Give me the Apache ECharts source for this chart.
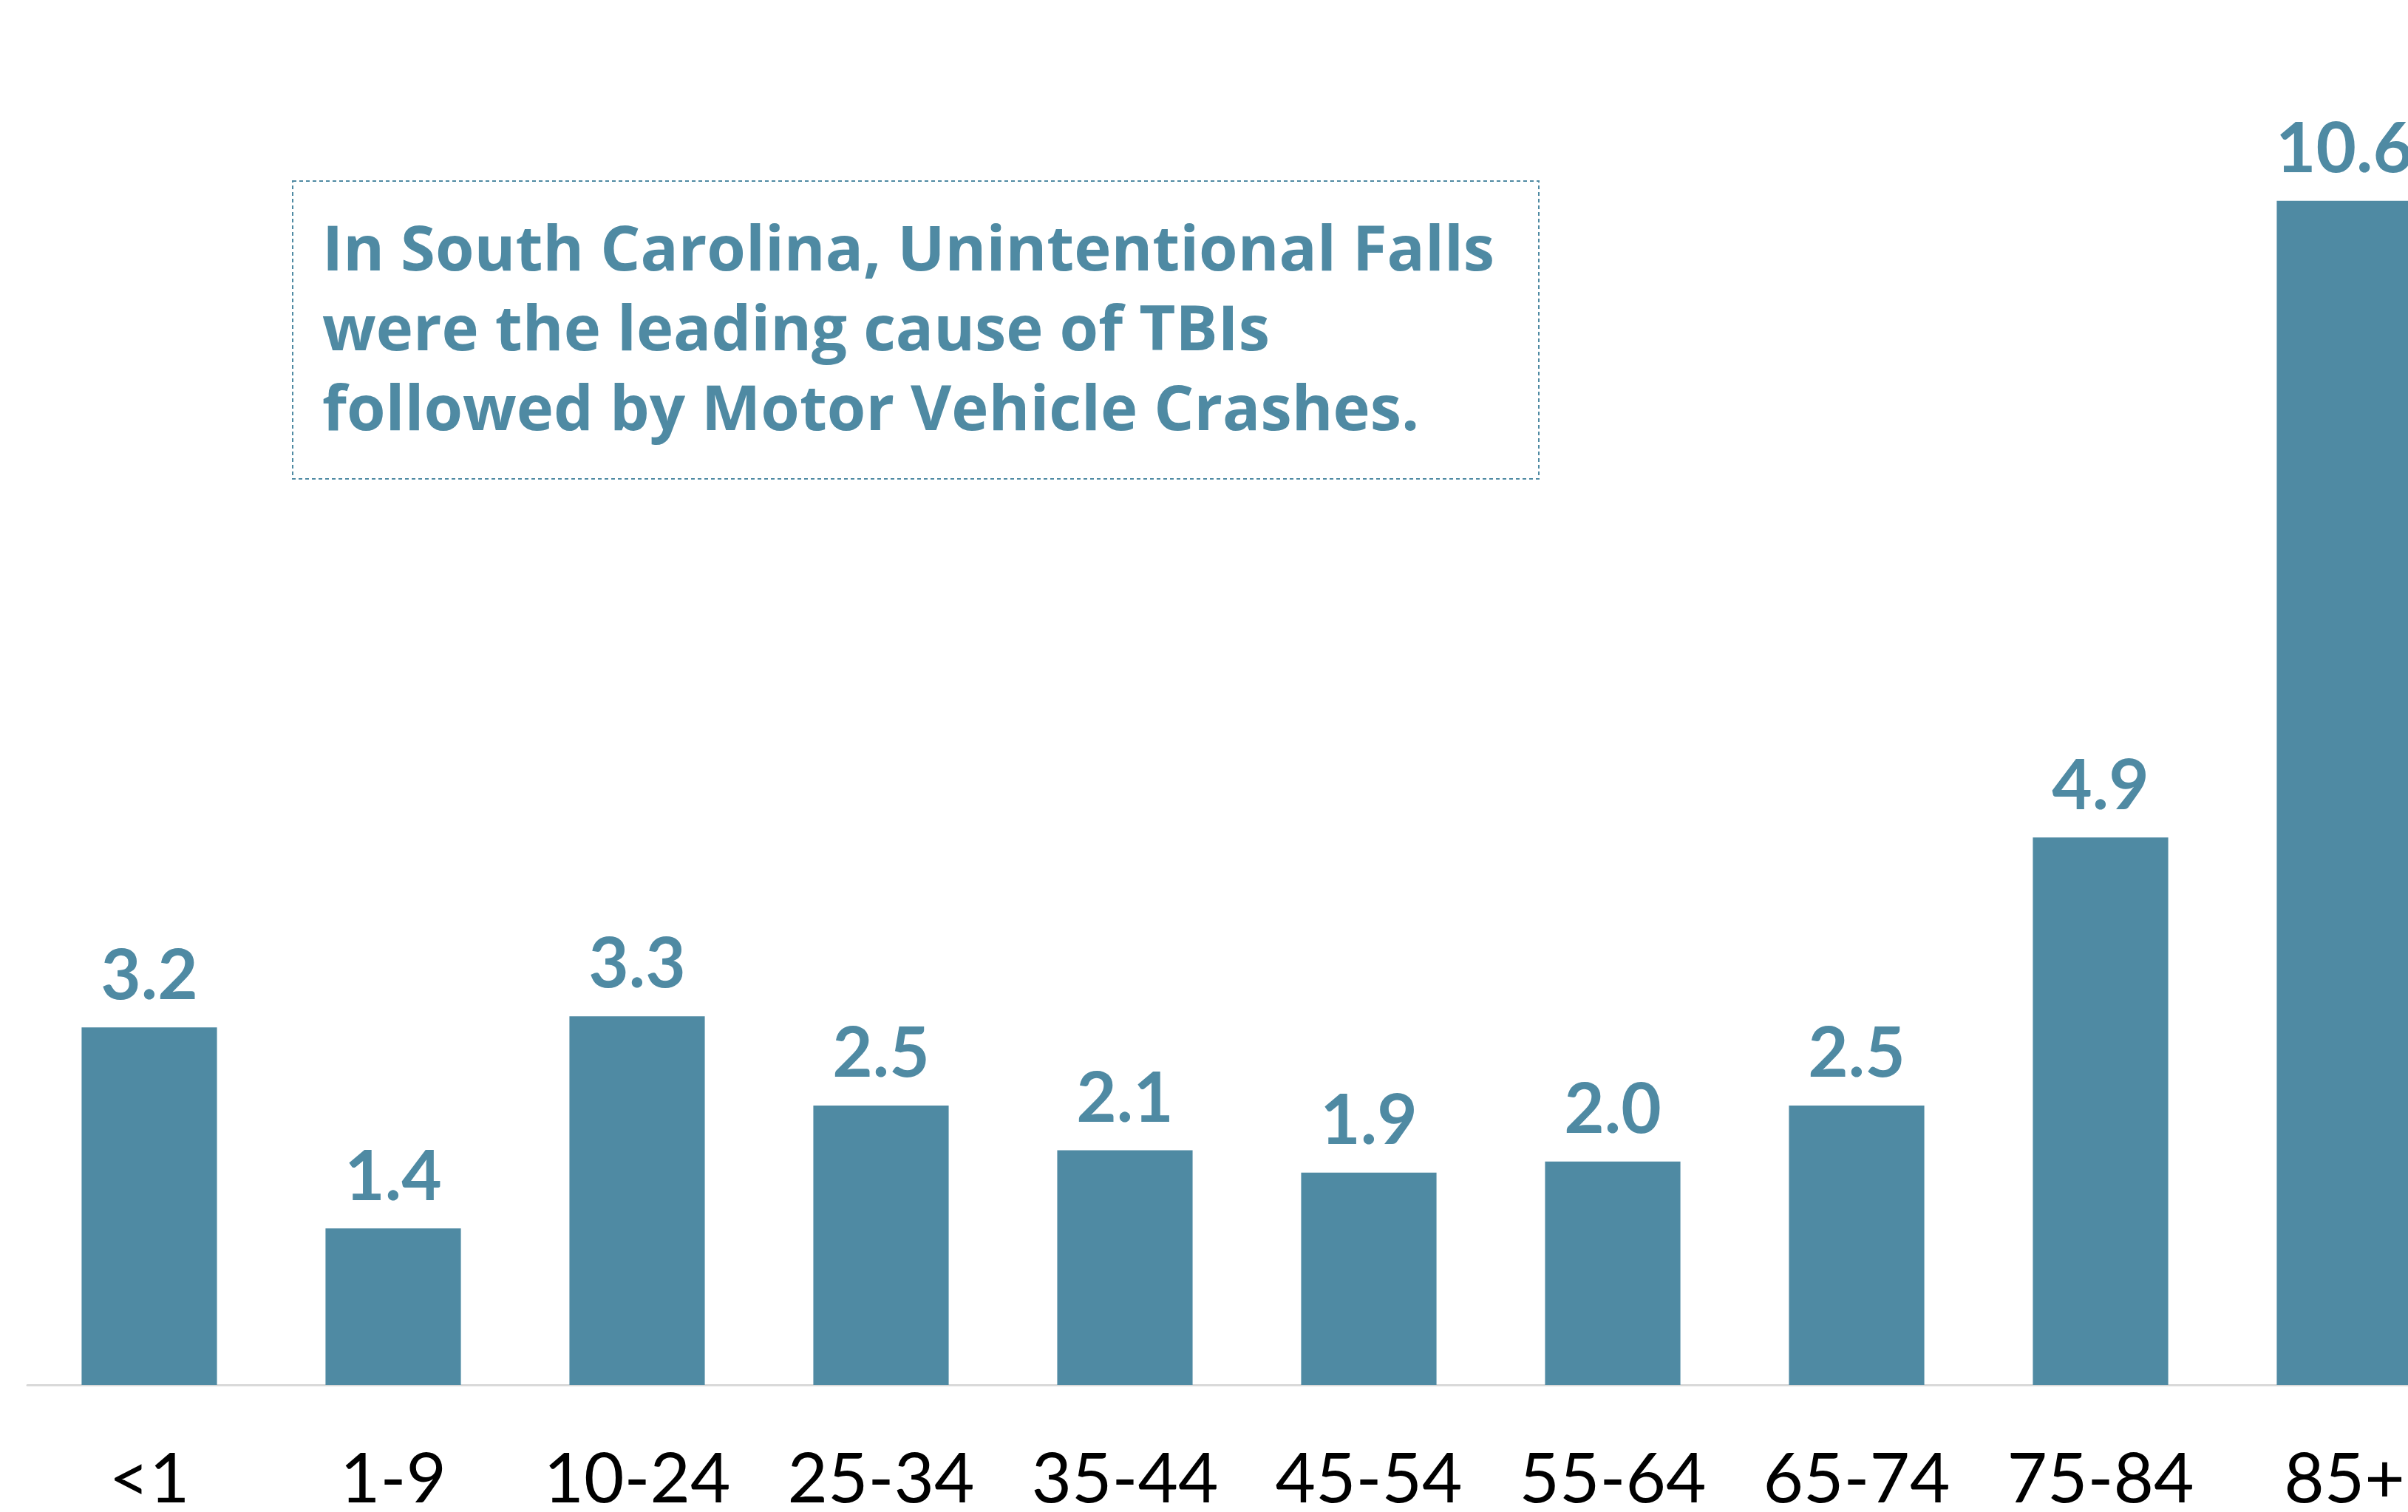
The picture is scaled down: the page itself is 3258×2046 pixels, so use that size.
<!DOCTYPE html>
<html>
<head>
<meta charset="utf-8">
<title>TBI by age</title>
<script src="https://cdn.jsdelivr.net/npm/echarts@6/dist/echarts.min.js"></script>
<style>
  html, body { margin: 0; padding: 0; background: #fff; }
  #main { width: 3258px; height: 2046px; }
</style>
</head>
<body>
<div id="main"></div>
<script>
// age groups on x axis
var ageGroups = ['<1', '1-9', '10-24', '25-34', '35-44', '45-54', '55-64', '65-74', '75-84', '85+']
// rate values for each age group
var rates = [3.2, 1.4, 3.3, 2.5, 2.1, 1.9, 2.0, 2.5, 4.9, 10.6]
// text in the dashed box
var noteLines = [
  'In South Carolina, Unintentional Falls',
  'were the leading cause of TBIs',
  'followed by Motor Vehicle Crashes.'
]

var teal = '#4f8aa3'
var chart = echarts.init(document.getElementById('main'))

var option = {
  backgroundColor: '#fff',
  animation: false,
  grid: {
    left: 37,
    width: 3300, // wider than the page, last bar gets cut like the source
    top: 60,
    bottom: 172,
    outerBoundsMode: 'none' // dont squeeze grid back into the page
  },
  xAxis: {
    type: 'category',
    data: ageGroups,
    axisTick: { show: false },
    axisLine: {
      lineStyle: { color: '#d9d9d9', width: 3 }
    },
    axisLabel: {
      interval: 0,
      margin: 82,
      fontSize: 94,
      fontFamily: 'Lato',
      color: '#000'
    }
  },
  yAxis: {
    type: 'value',
    min: 0,
    max: 12,
    show: false,
    splitLine: { show: false }
  },
  series: [{
    type: 'bar',
    data: rates,
    barWidth: '55.5%',
    itemStyle: { color: teal },
    label: {
      show: true,
      position: 'top',
      distance: 22,
      fontSize: 94,
      fontWeight: 'bold',
      fontFamily: 'Lato',
      color: teal,
      formatter: function (p) {
        return p.value.toFixed(1)
      }
    }
  }],
  graphic: [{
    type: 'rect',
    shape: { x: 396, y: 245, width: 1686, height: 403 },
    style: {
      fill: 'none',
      stroke: teal,
      lineWidth: 2,
      lineDash: [5, 4]
    }
  }, {
    type: 'text',
    x: 436,
    y: 288,
    style: {
      text: noteLines.join('\n'),
      font: 'bold 85px "Open Sans"',
      lineHeight: 108,
      fill: teal,
      verticalAlign: 'top'
    }
  }]
}

chart.setOption(option)
</script>
</body>
</html>
